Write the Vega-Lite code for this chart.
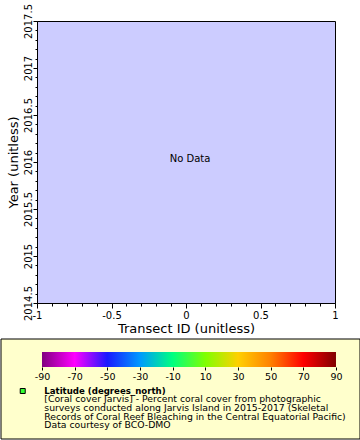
{
  "$schema": "https://vega.github.io/schema/vega-lite/v6.json",
  "padding": {"left": 0, "top": 3, "right": 0, "bottom": 0},
  "background": "white",
  "spacing": 2,
  "config": {
    "font": "DejaVu Sans",
    "view": {"stroke": "black", "strokeWidth": 1},
    "axis": {
      "domainColor": "black", "tickColor": "black", "labelColor": "black", "titleColor": "black",
      "labelFont": "DejaVu Sans", "titleFont": "DejaVu Sans", "labelFontSize": 10, "titleFontSize": 13,
      "titleFontWeight": "normal", "grid": false, "labelOverlap": false, "labelFlush": false, "domainWidth": 1, "tickWidth": 1
    }
  },
  "vconcat": [
    {
      "width": 298,
      "height": 282,
      "view": {"fill": "#ccccff", "stroke": "black"},
      "data": {"values": [{"message": "No Data"}]},
      "mark": {"type": "text", "font": "DejaVu Sans", "fontSize": 10, "dx": 4, "baseline": "alphabetic", "align": "center", "color": "black"},
      "encoding": {
        "text": {"field": "message", "type": "nominal"},
        "x": {
          "datum": 0, "type": "quantitative",
          "scale": {"domain": [-1, 1], "nice": false, "zero": false},
          "axis": {
            "title": "Transect ID (unitless)",
            "values": [-1, -0.9, -0.8, -0.7, -0.6, -0.5, -0.4, -0.3, -0.2, -0.1, 0, 0.1, 0.2, 0.3, 0.4, 0.5, 0.6, 0.7, 0.8, 0.9, 1],
            "labelExpr": "abs(datum.value*2-round(datum.value*2))<0.001 ? toString(round(datum.value*2)/2) : ''",
            "tickSize": {"condition": {"test": "abs(datum.value*2-round(datum.value*2))<0.001", "value": 5}, "value": 3},
            "labelPadding": 2,
            "titlePadding": 2
          }
        },
        "y": {
          "datum": 2016, "type": "quantitative",
          "scale": {"domain": [2014.5, 2017.5], "nice": false, "zero": false},
          "axis": {
            "title": ["", "Year (unitless)"],
            "titleLineHeight": 6,
            "values": [2014.5, 2014.6, 2014.7, 2014.8, 2014.9, 2015, 2015.1, 2015.2, 2015.3, 2015.4, 2015.5, 2015.6, 2015.7, 2015.8, 2015.9, 2016, 2016.1, 2016.2, 2016.3, 2016.4, 2016.5, 2016.6, 2016.7, 2016.8, 2016.9, 2017, 2017.1, 2017.2, 2017.3, 2017.4, 2017.5],
            "labelExpr": "abs(datum.value*2-round(datum.value*2))<0.001 ? toString(round(datum.value*2)/2) : ''",
            "tickSize": {"condition": {"test": "abs(datum.value*2-round(datum.value*2))<0.001", "value": 4}, "value": 2},
            "labelAngle": 270,
            "labelAlign": "center",
            "labelBaseline": "bottom",
            "labelPadding": 0,
            "titlePadding": 3
          }
        }
      }
    },
    {
      "width": 323,
      "height": 100,
      "view": {"fill": null, "stroke": null},
      "data": {"values": [{
        "variable": "Latitude (degrees_north)",
        "description": "[Coral cover Jarvis] - Percent coral cover from photographic\nsurveys conducted along Jarvis Island in 2015-2017 (Skeletal\nRecords of Coral Reef Bleaching in the Central Equatorial Pacific)\nData courtesy of BCO-DMO",
        "low": -90, "high": 90
      }]},
      "layer": [
        {
          "mark": {"type": "rect", "fill": "#ffffcc", "stroke": "black", "strokeWidth": 1},
          "encoding": {
            "x": {"datum": -115.1, "type": "quantitative",
              "scale": {"domain": [-93.06, 104.7], "nice": false, "zero": false},
              "axis": {"values": [-90, -70, -50, -30, -10, 10, 30, 50, 70, 90], "labelExpr": "toString(datum.value)", "offset": -72, "domain": false, "tickSize": 3, "labelPadding": 1, "labelFontSize": 9.5, "title": null, "labelFlush": false, "labelOverlap": false, "zindex": 1}},
            "x2": {"datum": 104.7},
            "y": {"datum": 0, "type": "quantitative", "scale": {"domain": [0, 100], "reverse": true, "nice": false, "zero": false}, "axis": null},
            "y2": {"datum": 100}
          }
        },
        {
          "mark": {"type": "rect", "fill": {"gradient": "linear", "x1": 0, "y1": 0, "x2": 1, "y2": 0, "stops": [
            {"offset": 0, "color": "#800080"},
            {"offset": 0.111, "color": "#ff00ff"},
            {"offset": 0.222, "color": "#1a1aff"},
            {"offset": 0.333, "color": "#0099ff"},
            {"offset": 0.444, "color": "#00ff80"},
            {"offset": 0.556, "color": "#80ff00"},
            {"offset": 0.667, "color": "#ffd000"},
            {"offset": 0.778, "color": "#ff8000"},
            {"offset": 0.889, "color": "#ff0000"},
            {"offset": 1, "color": "#800000"}
          ]}},
          "encoding": {
            "x": {"field": "low", "type": "quantitative",
              "axis": {"values": [-90, -70, -50, -30, -10, 10, 30, 50, 70, 90], "labelExpr": "toString(datum.value)", "offset": -72, "domain": false, "tickSize": 3, "labelPadding": 1, "labelFontSize": 9.5, "title": null, "labelFlush": false, "labelOverlap": false, "zindex": 1}},
            "x2": {"field": "high"},
            "y": {"datum": 13, "type": "quantitative", "axis": null},
            "y2": {"datum": 28}
          }
        },
        {
          "mark": {"type": "point", "shape": "square", "size": 25, "filled": true, "fill": "#33ff33", "stroke": "black", "strokeWidth": 1, "opacity": 1},
          "encoding": {
            "x": {"datum": -101.8, "type": "quantitative",
              "axis": {"values": [-90, -70, -50, -30, -10, 10, 30, 50, 70, 90], "labelExpr": "toString(datum.value)", "offset": -72, "domain": false, "tickSize": 3, "labelPadding": 1, "labelFontSize": 9.5, "title": null, "labelFlush": false, "labelOverlap": false, "zindex": 1}},
            "y": {"datum": 52, "type": "quantitative", "axis": null}
          }
        },
        {
          "mark": {"type": "text", "font": "DejaVu Sans", "fontSize": 8.6, "fontWeight": "bold", "align": "left", "baseline": "alphabetic", "color": "black"},
          "encoding": {
            "text": {"field": "variable", "type": "nominal"},
            "x": {"datum": -88.6, "type": "quantitative",
              "axis": {"values": [-90, -70, -50, -30, -10, 10, 30, 50, 70, 90], "labelExpr": "toString(datum.value)", "offset": -72, "domain": false, "tickSize": 3, "labelPadding": 1, "labelFontSize": 9.5, "title": null, "labelFlush": false, "labelOverlap": false, "zindex": 1}},
            "y": {"datum": 55, "type": "quantitative", "axis": null}
          }
        },
        {
          "mark": {"type": "text", "font": "DejaVu Sans", "fontSize": 9.3, "align": "left", "baseline": "alphabetic", "lineBreak": "\n", "lineHeight": 8.8, "color": "black"},
          "encoding": {
            "text": {"field": "description", "type": "nominal"},
            "x": {"datum": -88.6, "type": "quantitative",
              "axis": {"values": [-90, -70, -50, -30, -10, 10, 30, 50, 70, 90], "labelExpr": "toString(datum.value)", "offset": -72, "domain": false, "tickSize": 3, "labelPadding": 1, "labelFontSize": 9.5, "title": null, "labelFlush": false, "labelOverlap": false, "zindex": 1}},
            "y": {"datum": 63, "type": "quantitative", "axis": null}
          }
        }
      ]
    }
  ]
}
